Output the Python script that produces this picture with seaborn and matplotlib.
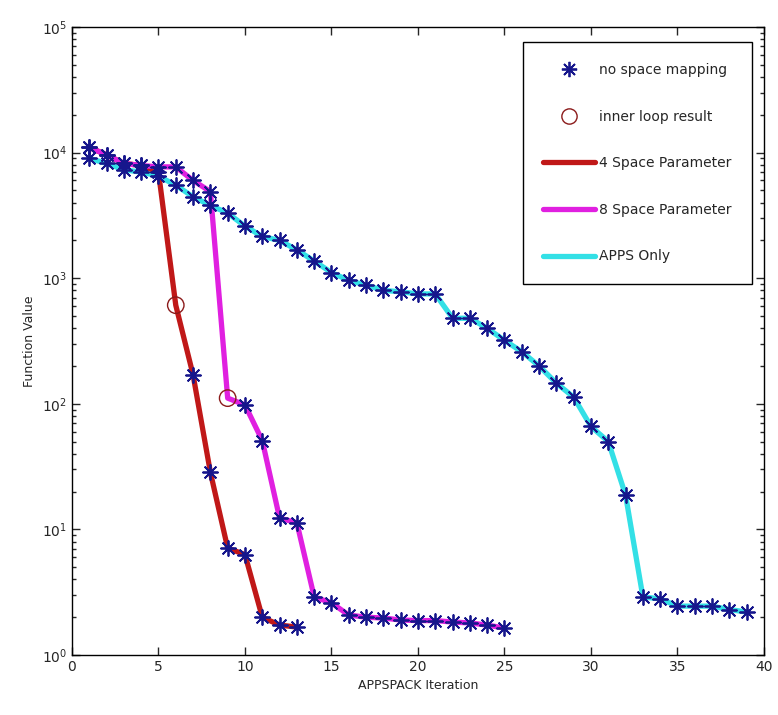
import numpy as np
import pandas as pd
import seaborn as sns
import matplotlib
matplotlib.use("Agg")
import matplotlib.pyplot as plt
from matplotlib.lines import Line2D

# ---- data ----
apps_x = list(range(1, 40))
apps_y = [9000, 8200, 7300, 7000, 6500, 5500, 4450, 3800, 3300, 2600,
          2150, 2000, 1680, 1370, 1110, 960, 880, 800, 780, 750,
          750, 480, 480, 400, 320, 260, 200, 146, 113, 66,
          50, 18.7, 2.9, 2.8, 2.45, 2.45, 2.45, 2.3, 2.2]

four_x = list(range(1, 14))
four_y = [11000, 9600, 8200, 7900, 7000, 610, 170, 28.5, 7.1, 6.3, 2.0, 1.73, 1.67]

eight_x = list(range(1, 26))
eight_y = [11000, 9600, 8200, 7900, 7700, 7700, 6000, 4900, 111, 98,
           51, 12.3, 11.3, 2.9, 2.6, 2.08, 2.0, 1.97, 1.9, 1.88,
           1.88, 1.83, 1.8, 1.73, 1.64]

inner_x = [6, 9]          # inner loop result iterations (red at 6, magenta at 9)
inner_y = [610, 111]

labels = ["no space mapping", "inner loop result", "4 Space Parameter",
          "8 Space Parameter", "APPS Only"]
xticks = [0, 5, 10, 15, 20, 25, 30, 35, 40]

# ---- styling ----
sns.set_style("ticks")
plt.rcParams['font.family'] = ['DejaVu Sans']

c_red = "#c01818"
c_mag = "#e020e0"
c_cyan = "#33e0e6"
c_star = "#16168c"
c_circ = "#8b1a1a"
star_marker = (8, 2, 0)

fig = plt.figure(figsize=(7.78, 7.15), dpi=100)
ax = fig.add_axes([0.0925, 0.0839, 0.8895, 0.8783])

df_apps = pd.DataFrame({"x": apps_x, "y": apps_y})
df_four = pd.DataFrame({"x": four_x, "y": four_y})
df_eight = pd.DataFrame({"x": eight_x, "y": eight_y})

sns.lineplot(data=df_apps, x="x", y="y", ax=ax, color=c_cyan, linewidth=3.8)
sns.lineplot(data=df_four, x="x", y="y", ax=ax, color=c_red, linewidth=3.8)
sns.lineplot(data=df_eight, x="x", y="y", ax=ax, color=c_mag, linewidth=3.8)

# star markers: all points except the inner-loop results
star_df = pd.concat([
    df_apps,
    df_four[df_four["x"] != inner_x[0]],
    df_eight[df_eight["x"] != inner_x[1]],
])
sns.scatterplot(data=star_df, x="x", y="y", ax=ax, marker=star_marker, s=115,
                color=c_star, linewidth=1.3, zorder=5)
df_inner = pd.DataFrame({"x": inner_x, "y": inner_y})
sns.scatterplot(data=df_inner, x="x", y="y", ax=ax, marker="o", s=140,
                facecolor="none", edgecolor=c_circ, linewidth=1.0, zorder=5)

ax.set_yscale("log")
ax.set_xlim(0, 40)
ax.set_ylim(1, 1e5)
ax.set_xticks(xticks)
ax.tick_params(which="both", direction="in", top=True, right=True,
               labelsize=10, width=1.0)
ax.tick_params(which="major", length=6)
ax.tick_params(which="minor", length=3)
for s in ax.spines.values():
    s.set_linewidth(1.0)
    s.set_color("black")

ax.set_xlabel("APPSPACK Iteration", fontsize=9)
ax.set_ylabel("Function Value", fontsize=9)

handles = [
    Line2D([], [], linestyle="none", marker=star_marker, markersize=11,
           color=c_star, markeredgewidth=1.3),
    Line2D([], [], linestyle="none", marker="o", markersize=11,
           markerfacecolor="none", markeredgecolor=c_circ, markeredgewidth=1.0),
    Line2D([], [], color=c_red, linewidth=3.8),
    Line2D([], [], color=c_mag, linewidth=3.8),
    Line2D([], [], color=c_cyan, linewidth=3.8),
]
leg = ax.legend(handles, labels, loc="upper right", bbox_to_anchor=(0.983, 0.976),
                fontsize=10, frameon=True, fancybox=False, shadow=False,
                labelspacing=2.35, handlelength=3.7, handletextpad=0.3,
                borderpad=1.5, borderaxespad=0)
leg.get_frame().set_edgecolor("black")
leg.get_frame().set_linewidth(1.0)
leg.get_frame().set_alpha(1)

fig.savefig("out.png", dpi=100)
